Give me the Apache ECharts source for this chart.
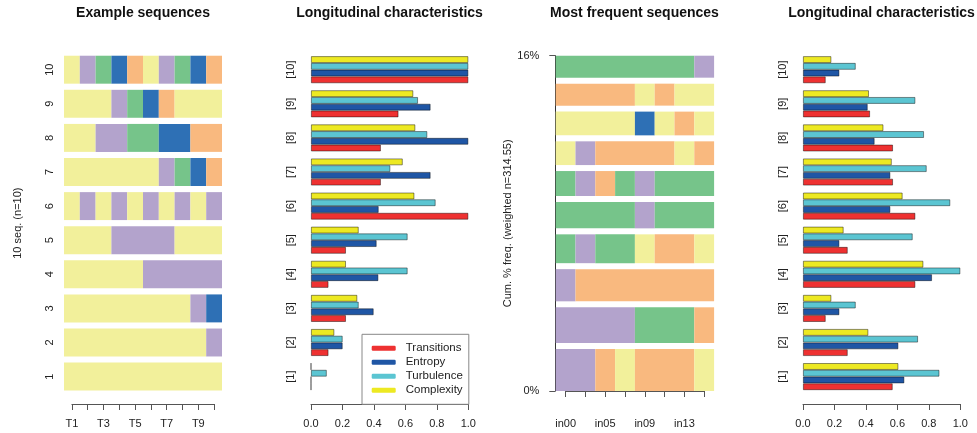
<!DOCTYPE html>
<html>
<head>
<meta charset="utf-8">
<script src="https://cdn.jsdelivr.net/npm/echarts@6/dist/echarts.min.js"></script>
<style>
  html, body { margin: 0; padding: 0; background: #fff; }
  #chart { width: 977px; height: 433px; }
</style>
</head>
<body>
<div id="chart"></div>
<script>
// ---- state alphabet ----
const stateCodes = ['Y', 'P', 'G', 'B', 'O'];
const stateColors = ['#F2F09B', '#B3A3CC', '#76C48A', '#2E70B5', '#F9B97F'];

// ---- panel 1: example sequences (row "1" drawn at the bottom) ----
const positions = ['T1', 'T2', 'T3', 'T4', 'T5', 'T6', 'T7', 'T8', 'T9', 'T10'];
const exampleIds = ['1', '2', '3', '4', '5', '6', '7', '8', '9', '10'];
const exampleSeqs = [
  ['Y','Y','Y','Y','Y','Y','Y','Y','Y','Y'],
  ['Y','Y','Y','Y','Y','Y','Y','Y','Y','P'],
  ['Y','Y','Y','Y','Y','Y','Y','Y','P','B'],
  ['Y','Y','Y','Y','Y','P','P','P','P','P'],
  ['Y','Y','Y','P','P','P','P','Y','Y','Y'],
  ['Y','P','Y','P','Y','P','Y','P','Y','P'],
  ['Y','Y','Y','Y','Y','Y','P','G','B','O'],
  ['Y','Y','P','P','G','G','B','B','O','O'],
  ['Y','Y','Y','P','G','B','O','Y','Y','Y'],
  ['Y','P','G','B','O','Y','P','G','B','O']
];

// ---- panel 2: longitudinal characteristics of the example sequences ----
const measureNames = ['Transitions', 'Entropy', 'Turbulence', 'Complexity'];
const measureColors = ['#EE3131', '#1F56A5', '#5BC5D2', '#EDE922'];
const groupLabels = ['[1]', '[2]', '[3]', '[4]', '[5]', '[6]', '[7]', '[8]', '[9]', '[10]'];
const exTransitions = [0, 0.111, 0.222, 0.111, 0.222, 1.0, 0.444, 0.444, 0.556, 1.0];
const exEntropy     = [0, 0.201, 0.398, 0.428, 0.417, 0.430, 0.760, 1.0, 0.760, 1.0];
const exTurbulence  = [0.100, 0.201, 0.303, 0.614, 0.614, 0.792, 0.504, 0.739, 0.680, 1.0];
const exComplexity  = [0, 0.148, 0.294, 0.222, 0.303, 0.657, 0.583, 0.663, 0.650, 1.0];

// ---- panel 3: ten most frequent sequences (most frequent at the bottom) ----
const freqColumns = ['in00', 'in03', 'in05', 'in07', 'in09', 'in11', 'in13', 'in15'];
const freqSeqs = [
  ['P','P','O','Y','O','O','O','Y'],
  ['P','P','P','P','G','G','G','O'],
  ['P','O','O','O','O','O','O','O'],
  ['G','P','G','G','Y','O','O','Y'],
  ['G','G','G','G','P','G','G','G'],
  ['G','P','O','G','P','G','G','G'],
  ['Y','P','O','O','O','O','Y','O'],
  ['Y','Y','Y','Y','B','Y','O','Y'],
  ['O','O','O','O','Y','O','Y','Y'],
  ['G','G','G','G','G','G','G','P']
];
const freqPct = [2.39, 2.03, 1.83, 1.64, 1.50, 1.42, 1.35, 1.35, 1.25, 1.25];
const freqGap = 0.34;   // vertical space between stacked sequences, in % units
const weightedN = '314.55';

// ---- panel 4: longitudinal characteristics of the frequent sequences ----
const fqTransitions = [0.570, 0.284, 0.144, 0.714, 0.284, 0.714, 0.572, 0.572, 0.426, 0.144];
const fqEntropy     = [0.644, 0.606, 0.231, 0.820, 0.231, 0.555, 0.555, 0.455, 0.411, 0.231];
const fqTurbulence  = [0.867, 0.731, 0.335, 1.0, 0.697, 0.936, 0.786, 0.769, 0.714, 0.335];
const fqComplexity  = [0.606, 0.415, 0.180, 0.765, 0.258, 0.633, 0.564, 0.511, 0.419, 0.180];

// ---------------------------------------------------------------
const FONT = '"Liberation Sans", Arial, Helvetica, sans-serif';
const TXT = '#222';
const AXIS = '#555';

// merge consecutive identical states into runs: [startIdx, endIdx, stateIdx]
function runs(seq) {
  const out = [];
  let start = 0;
  for (let i = 1; i <= seq.length; i++) {
    if (i === seq.length || seq[i] !== seq[start]) {
      out.push([start, i - 1, stateCodes.indexOf(seq[start])]);
      start = i;
    }
  }
  return out;
}

const exampleCells = [];
exampleSeqs.forEach((seq, row) => {
  runs(seq).forEach(([a, b, s]) => exampleCells.push([a, b, row, s]));
});

const freqCells = [];
let cum = 0;
freqSeqs.forEach((seq, i) => {
  const y0 = cum, y1 = cum + freqPct[i];
  runs(seq).forEach(([a, b, s]) => freqCells.push([a, b, y0, y1, s]));
  cum = y1 + (i < freqSeqs.length - 1 ? freqGap : 0);
});
const freqTop = cum;
const freqTotal = freqPct.reduce((s, v) => s + v, 0);

const tickLabel = { color: TXT, fontFamily: FONT, fontSize: 11 };

function seqPanelRender(params, api) {
  const band = api.size([1, 1]);
  const p0 = api.coord([api.value(0), api.value(2)]);
  const p1 = api.coord([api.value(1), api.value(2)]);
  const h = band[1] * 0.82;
  return {
    type: 'rect',
    shape: { x: p0[0] - band[0] / 2, y: p0[1] - h / 2, width: p1[0] - p0[0] + band[0], height: h },
    style: { fill: stateColors[api.value(3)] }
  };
}

function freqPanelRender(params, api) {
  const bw = api.size([1, 0])[0];
  const top = api.coord([api.value(0), api.value(3)]);
  const bot = api.coord([api.value(1), api.value(2)]);
  return {
    type: 'rect',
    shape: { x: top[0] - bw / 2, y: top[1], width: bot[0] - top[0] + bw, height: bot[1] - top[1] },
    style: { fill: stateColors[api.value(4)] }
  };
}

// bars within a group are listed top-down: Complexity, Turbulence, Entropy, Transitions
function measureSeries(axisIdx, values) {
  const order = [3, 2, 1, 0];
  return order.map(k => ({
    type: 'bar',
    name: measureNames[k],
    xAxisIndex: axisIdx,
    yAxisIndex: axisIdx,
    data: values[k],
    barWidth: 6.75,
    barGap: '0%',
    itemStyle: { color: measureColors[k], borderColor: 'rgba(0,0,0,0.55)', borderWidth: 0.8 },
    emphasis: { disabled: true }
  }));
}

function valueXAxis(gridIndex) {
  return {
    type: 'value', gridIndex, min: 0, max: 1, interval: 0.2, offset: 10.35,
    axisLine: { show: true, lineStyle: { color: AXIS, width: 1 } },
    axisTick: { show: true, length: 6, lineStyle: { color: AXIS } },
    axisLabel: Object.assign({ margin: 14, formatter: v => v.toFixed(1) }, tickLabel),
    splitLine: { show: false }
  };
}

function groupYAxis(gridIndex) {
  return {
    type: 'category', gridIndex, data: groupLabels,
    axisLine: { show: false }, axisTick: { show: false },
    axisLabel: Object.assign({ rotate: 90, margin: 15 }, tickLabel)
  };
}

const titleBase = { fontFamily: FONT, fontSize: 14, fontWeight: 'bold', color: '#111' };

const option = {
  animation: false,
  backgroundColor: '#fff',
  title: [
    { text: 'Example sequences', left: 143, top: 6, textAlign: 'center', padding: 0, textStyle: titleBase },
    { text: 'Longitudinal characteristics', left: 389.5, top: 6, textAlign: 'center', padding: 0, textStyle: titleBase },
    { text: 'Most frequent sequences', left: 634.5, top: 6, textAlign: 'center', padding: 0, textStyle: titleBase },
    { text: 'Longitudinal characteristics', left: 881.5, top: 6, textAlign: 'center', padding: 0, textStyle: titleBase }
  ],
  legend: {
    orient: 'vertical',
    left: 362, top: 334.3,
    padding: [7, 6, 7, 9.7],
    itemGap: 0,
    itemWidth: 24, itemHeight: 5,
    icon: 'roundRect',
    borderColor: '#888', borderWidth: 1,
    selectedMode: false,
    data: measureNames,
    itemStyle: { borderWidth: 0 },
    textStyle: { color: TXT, fontFamily: FONT, fontSize: 11.5, lineHeight: 14, padding: [0, 0, 0, 5] }
  },
  grid: [
    { left: 71.9, top: 52.65, width: 142.2, height: 341 },
    { left: 311, top: 52.65, width: 157.3, height: 341 },
    { left: 565.6, top: 55.7, width: 138.6, height: 335.3 },
    { left: 803, top: 52.65, width: 157.3, height: 341 }
  ],
  xAxis: [
    {
      type: 'category', gridIndex: 0, data: positions, boundaryGap: false, offset: 10.35,
      axisLine: { show: true, lineStyle: { color: AXIS } },
      axisTick: { show: true, interval: 0, length: 6, lineStyle: { color: AXIS } },
      axisLabel: Object.assign({ interval: 1, margin: 14 }, tickLabel)
    },
    valueXAxis(1),
    {
      type: 'category', gridIndex: 2, data: freqColumns, boundaryGap: false, offset: 13,
      axisLine: { show: true, lineStyle: { color: AXIS } },
      axisTick: { show: true, interval: 0, length: 6, lineStyle: { color: AXIS } },
      axisLabel: Object.assign({ interval: 1, margin: 14 }, tickLabel)
    },
    valueXAxis(3)
  ],
  yAxis: [
    {
      type: 'category', gridIndex: 0, data: exampleIds,
      axisLine: { show: false }, axisTick: { show: false },
      axisLabel: Object.assign({ rotate: 90, margin: 16 }, tickLabel),
      name: '10 seq. (n=10)', nameLocation: 'middle', nameRotate: 90, nameGap: 48,
      nameTextStyle: { color: TXT, fontFamily: FONT, fontSize: 11 }
    },
    groupYAxis(1),
    {
      type: 'value', gridIndex: 2, min: 0, max: freqTop, interval: freqTop, offset: 10.3,
      axisLine: { show: true, lineStyle: { color: '#333' } },
      axisTick: { show: true, length: 6, lineStyle: { color: AXIS } },
      axisLabel: Object.assign({
        margin: 16, showMaxLabel: true, showMinLabel: true,
        formatter: v => (v === 0 ? '0%' : Math.round(freqTotal) + '%')
      }, tickLabel),
      splitLine: { show: false },
      name: 'Cum. % freq. (weighted n=' + weightedN + ')', nameLocation: 'middle', nameRotate: 90, nameGap: 42,
      nameTextStyle: { color: TXT, fontFamily: FONT, fontSize: 11 }
    },
    groupYAxis(3)
  ],
  series: [
    {
      type: 'custom', xAxisIndex: 0, yAxisIndex: 0,
      data: exampleCells, encode: { x: [0, 1], y: 2 },
      renderItem: seqPanelRender, silent: true
    },
    ...measureSeries(1, [exTransitions, exEntropy, exTurbulence, exComplexity]),
    {
      type: 'custom', xAxisIndex: 2, yAxisIndex: 2,
      data: freqCells, encode: { x: [0, 1], y: [2, 3] },
      renderItem: freqPanelRender, silent: true
    },
    ...measureSeries(3, [fqTransitions, fqEntropy, fqTurbulence, fqComplexity])
  ]
};

const chart = echarts.init(document.getElementById('chart'), null, { renderer: 'canvas' });
chart.setOption(option);
</script>
</body>
</html>
